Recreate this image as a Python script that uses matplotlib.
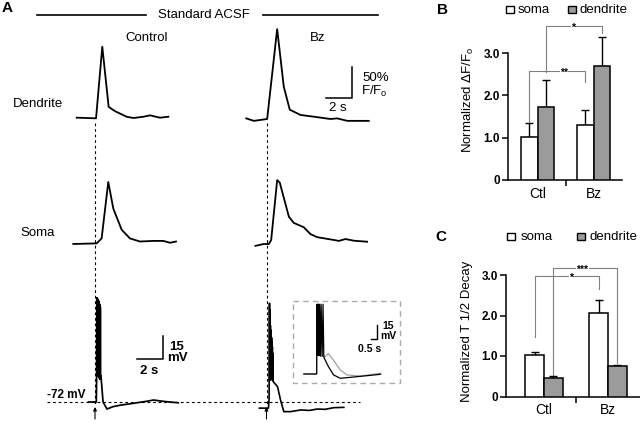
import matplotlib
matplotlib.use('Agg')
import matplotlib.pyplot as plt
from matplotlib.patches import Rectangle

plt.rcParams['font.family'] = ['Liberation Sans', 'DejaVu Sans']

W, H = 640, 423

# ---- panel A traces (time in s from stimulus, dF/F in %, Vm in mV) ----
t_dend_ctl = [-1.41, 0.08, 0.56, 1.05, 1.54, 2.44, 2.95, 3.72, 4.23, 5.0, 5.64]
f_dend_ctl = [0.5, -0.5, 115, 18, 11, 2, 0, 2, 4.3, 0.5, 2]
t_dend_bz = [-1.56, -0.97, 0.05, 0.82, 1.33, 1.79, 2.62, 3.64, 4.92, 5.44, 6.21, 7.87]
f_dend_bz = [1, -3, 0, 145, 52, 15, 6.5, 3.7, 0, 1, -3, -3]
t_soma_ctl = [-1.67, 0.13, 0.51, 1.02, 1.41, 2.05, 2.69, 3.46, 4.49, 5.25, 5.77, 6.23]
f_soma_ctl = [0, 1, 9, 100, 57, 23, 9, 4, 5, 5, 2, 4]
t_soma_bz = [-0.85, -0.21, 0.18, 0.36, 0.82, 1.02, 1.72, 2.1, 2.87, 3.38, 3.9, 5.18, 5.56, 6.08, 6.72, 7.74]
f_soma_bz = [-3, 0, 0, 6.5, 103, 99, 44, 34, 27, 16, 11, 6.5, 5, 8, 5.3, 3.7]

t_vm_ctl = [-0.5, 0.10, 0.12, 0.14, 0.155, 0.17, 0.185, 0.20, 0.215, 0.23, 0.245, 0.26,
            0.275, 0.29, 0.305, 0.32, 0.335, 0.35, 0.365, 0.38, 0.395, 0.41, 0.43, 0.46,
            0.62, 0.92, 1.4, 2.0, 2.6, 3.3, 4.0, 4.5, 5.0, 5.5, 6.4]
v_vm_ctl = [-72, -72, -60, -4, -52, -4, -53, -5, -54, -5, -55, -6,
            -55, -6, -56, -7, -56, -8, -57, -9, -57, -10, -56, -55,
            -72, -76.6, -75, -74, -73.3, -72.4, -71.5, -70.7, -71.3, -71.8, -72.5]
t_vm_bz = [-0.55, 0.15, 0.20, 0.23, 0.25, 0.27, 0.285, 0.30, 0.315, 0.33, 0.345, 0.36,
           0.375, 0.39, 0.405, 0.42, 0.435, 0.45, 0.465, 0.48, 0.50, 0.55, 0.85, 1.08,
           1.33, 1.85, 2.62, 3.3, 3.9, 4.5, 5.18, 5.95]
v_vm_bz = [-76, -76, -70, -7.5, -58, -12, -56, -22, -55, -25, -54, -27,
           -55, -30, -56, -33, -57, -36, -58, -40, -58, -59, -62, -70.7,
           -78.3, -78.3, -77.2, -77.5, -76.6, -76.8, -75.7, -75.5]

# inset (relative mV)
t_inset_k = [-1.15, -0.03, 0.0, 0.03, 0.06, 0.09, 0.12, 0.17, 0.22, 0.29, 0.36, 0.45,
             0.53, 0.6, 1.0, 1.45, 2.04, 2.92, 4.4, 5.58]
v_inset_k = [0, 0, 75, 20, 75, 20, 75, 20, 75, 19, 75, 19, 75, 18, 8, -1, -4.6, -3.6, -1.8, -0.3]
t_inset_g = [-1.15, -0.03, 0.0, 0.04, 0.08, 0.15, 0.2, 0.26, 0.32, 0.45, 0.71, 1.0, 1.44,
             2.04, 2.63, 3.8, 5.58]
v_inset_g = [0, 0, 72, 22, 72, 22, 72, 22, 72, 20, 18.6, 22, 15, 4.3, -1, -2.2, 0.8]

# ---- panels B and C ----
groups = ['Ctl', 'Bz']
dff_soma = [1.01, 1.30]
dff_soma_top = [1.34, 1.65]
dff_dend = [1.72, 2.70]
dff_dend_top = [2.36, 3.37]
decay_soma = [1.02, 2.05]
decay_soma_top = [1.09, 2.39]
decay_dend = [0.45, 0.75]
decay_dend_top = [0.50, 0.79]
# brackets: x_left, y_left, x_right, y_right, y_top, star x, label
sig_b = [(-0.147, 1.37, 0.853, 2.32, 2.58, 0.47, '**'),
         (0.147, 2.55, 1.147, 3.47, 3.64, 0.63, '*')]
sig_c = [(-0.147, 1.47, 0.853, 2.65, 2.97, 0.42, '*'),
         (0.147, 0.52, 1.147, 0.82, 3.17, 0.60, '***')]

dend_gray = '#9b9b9b'
brk_gray = '#808080'

fig = plt.figure(figsize=(6.4, 4.23), dpi=100)

ov = fig.add_axes([0, 0, 1, 1])
ov.set_xlim(0, W)
ov.set_ylim(H, 0)
ov.axis('off')


def box(x0, x1, y0, y1):
    return fig.add_axes([x0 / W, 1 - y1 / H, (x1 - x0) / W, (y1 - y0) / H])


def trace_axes(ox, oy, sx, sy, tlim, vlim, vref=0.0):
    ax = box(ox + tlim[0] * sx, ox + tlim[1] * sx,
             oy - (vlim[1] - vref) * sy, oy - (vlim[0] - vref) * sy)
    ax.set_xlim(tlim)
    ax.set_ylim(vlim)
    ax.axis('off')
    return ax


PX_S, PX_F, PX_MV = 13.0, 0.62, 1.53
tl = (-2, 8)
lw_tr = 1.3

a = trace_axes(95, 118, PX_S, PX_F, tl, (-10, 160))
a.plot(t_dend_ctl, f_dend_ctl, color='k', lw=lw_tr, clip_on=False)
a = trace_axes(266.5, 119, PX_S, PX_F, tl, (-10, 160))
a.plot(t_dend_bz, f_dend_bz, color='k', lw=lw_tr, clip_on=False)
a.plot([4.54, 6.54, 6.54], [33.9, 33.9, 83.9], color='k', lw=1.1, clip_on=False)

a = trace_axes(95, 244, PX_S, PX_F, tl, (-10, 160))
a.plot(t_soma_ctl, f_soma_ctl, color='k', lw=lw_tr, clip_on=False)
a = trace_axes(266.5, 244, PX_S, PX_F, tl, (-10, 160))
a.plot(t_soma_bz, f_soma_bz, color='k', lw=lw_tr, clip_on=False)

a = trace_axes(95, 402, PX_S, PX_MV, tl, (-85, 5), vref=-72)
a.plot(t_vm_ctl, v_vm_ctl, color='k', lw=1.25, clip_on=False)
a.plot([3.23, 5.23, 5.23], [-43.9, -43.9, -28.9], color='k', lw=1.1, clip_on=False)
a = trace_axes(266.5, 402, PX_S, PX_MV, tl, (-85, 5), vref=-72)
a.plot(t_vm_bz, v_vm_bz, color='k', lw=1.2, clip_on=False)

a = trace_axes(317, 374, 11.4, 0.93, (-1.5, 6), (-10, 80))
a.plot(t_inset_g, v_inset_g, color='#a0a0a0', lw=0.9, clip_on=False)
a.plot(t_inset_k, v_inset_k, color='k', lw=0.9, clip_on=False)
a.plot([4.74, 5.24, 5.24], [37.6, 37.6, 52.6], color='k', lw=1.0, clip_on=False)

# annotations for panel A
ov.text(7.5, 8, 'A', fontsize=11, fontweight='bold', ha='center', va='center')
ov.plot([37, 146], [15, 15], color='k', lw=1.2)
ov.plot([263, 378], [15, 15], color='k', lw=1.2)
ov.text(203.5, 15, 'Standard ACSF', fontsize=9.5, ha='center', va='center')
ov.text(147, 38, 'Control', fontsize=9.5, ha='center', va='center')
ov.text(317.5, 38, 'Bz', fontsize=9.5, ha='center', va='center')
ov.text(12.5, 104, 'Dendrite', fontsize=9.5, ha='left', va='center')
ov.text(20, 233, 'Soma', fontsize=9.5, ha='left', va='center')
ov.text(362, 78, '50%', fontsize=9.5, ha='left', va='center')
ov.text(361, 91, r'F/F$_\mathregular{o}$', fontsize=9.5, ha='left', va='center')
ov.text(338, 108, '2 s', fontsize=9.5, ha='center', va='center')
ov.text(169, 347, '15', fontsize=9.5, fontweight='bold', ha='left', va='center')
ov.text(167, 358, 'mV', fontsize=9.5, fontweight='bold', ha='left', va='center')
ov.text(149, 371, '2 s', fontsize=9.5, fontweight='bold', ha='center', va='center')
ov.text(47, 395, '-72 mV', fontsize=8.5, fontweight='bold', ha='left', va='center')
ov.text(382, 326, '15', fontsize=7.5, fontweight='bold', ha='left', va='center')
ov.text(380, 336, 'mV', fontsize=7.5, fontweight='bold', ha='left', va='center')
ov.text(370, 349, '0.5 s', fontsize=7.5, fontweight='bold', ha='center', va='center')

ov.plot([47, 360], [402, 402], color='k', lw=0.8, ls=(0, (2.5, 2.5)))
for xs in (95, 266.5):
    ov.plot([xs, xs], [123, 405], color='k', lw=0.8, ls=(0, (2.5, 2.5)))
    ov.annotate('', xy=(xs, 407), xytext=(xs, 419),
                arrowprops=dict(arrowstyle='-|>', color='k', lw=0.8,
                                mutation_scale=5, shrinkA=0, shrinkB=0))
ov.add_patch(Rectangle((293, 301), 107, 82, fill=False, ec='#aaaaaa', lw=1.0,
                       ls=(0, (4, 3))))


# ---- bar panels ----
def bar_panel(x0, x1, y0px, y3px, soma, soma_top, dend, dend_top, sigs):
    ax = box(x0, x1, y3px, y0px)
    c = [0, 1]
    ax.set_ylim(0, 3)
    w = 0.295
    ax.bar([i - w / 2 for i in c], soma, w, color='white', edgecolor='k', lw=1.1, zorder=3)
    ax.bar([i + w / 2 for i in c], dend, w, color=dend_gray, edgecolor='k', lw=1.1, zorder=3)
    ax.errorbar([i - w / 2 for i in c], soma,
                yerr=[[0, 0], [t - v for t, v in zip(soma_top, soma)]],
                fmt='none', ecolor='k', elinewidth=1.0, capsize=3, capthick=1.0,
                zorder=2, clip_on=False)
    ax.errorbar([i + w / 2 for i in c], dend,
                yerr=[[0, 0], [t - v for t, v in zip(dend_top, dend)]],
                fmt='none', ecolor='k', elinewidth=1.0, capsize=3, capthick=1.0,
                zorder=2, clip_on=False)
    for xl, yl, xr, yr, yt, xs, lab in sigs:
        ax.plot([xl, xl, xr, xr], [yl, yt, yt, yr], color=brk_gray, lw=0.8,
                clip_on=False, zorder=1)
        ax.text(xs, yt - 0.04, lab, fontsize=7.5, fontweight='bold', ha='center',
                va='center', zorder=4, clip_on=False,
                bbox=dict(boxstyle='square,pad=0.02', fc='white', ec='none'))
    for s in ('top', 'right'):
        ax.spines[s].set_visible(False)
    ax.spines['left'].set_bounds(0, 3)
    ax.spines['left'].set_linewidth(1.1)
    ax.spines['bottom'].set_linewidth(1.1)
    ax.set_yticks([0, 1, 2, 3])
    ax.set_yticklabels(['0', '1.0', '2.0', '3.0'], fontsize=8.5, fontweight='bold')
    ax.tick_params(axis='y', direction='out', length=4, width=1.1, pad=2)
    ax.set_xticks(c)
    ax.set_xticklabels(groups, fontsize=10)
    ax.tick_params(axis='x', length=0, pad=5)
    ax.set_xticks([0.5], minor=True)
    ax.tick_params(axis='x', which='minor', direction='out', length=4, width=1.1)
    return ax


axb = bar_panel(508, 622, 180, 53, dff_soma, dff_soma_top, dff_dend, dff_dend_top, sig_b)
axb.set_xlim((508 - 537.5) / 56, (622 - 537.5) / 56)
axc = bar_panel(506, 640, 396.5, 275, decay_soma, decay_soma_top, decay_dend, decay_dend_top,
                sig_c)
axc.set_xlim((506 - 544) / 64, (640 - 544) / 64)

ov.text(468, 100, r'Normalized $\Delta$F/F$_\mathregular{o}$', fontsize=9.5, rotation=90,
        ha='center', va='center')
ov.text(467, 331, 'Normalized T 1/2 Decay', fontsize=9.5, rotation=90,
        ha='center', va='center')

ov.text(442, 10, 'B', fontsize=11, fontweight='bold', ha='center', va='center')
ov.text(441, 237, 'C', fontsize=11, fontweight='bold', ha='center', va='center')

# legends
for (sx, sy, gx, tx1, tx2) in [(506, 6, 568, 518, 580), (507, 233, 577, 521, 589)]:
    ov.add_patch(Rectangle((sx, sy), 7.5, 7.5, fc='white', ec='k', lw=1.0))
    ov.add_patch(Rectangle((gx, sy), 7.5, 7.5, fc=dend_gray, ec='k', lw=1.0))
    ov.text(tx1, sy + 3.75, 'soma', fontsize=9.5, ha='left', va='center')
    ov.text(tx2, sy + 3.75, 'dendrite', fontsize=9.5, ha='left', va='center')

fig.savefig('out.png', dpi=100)
